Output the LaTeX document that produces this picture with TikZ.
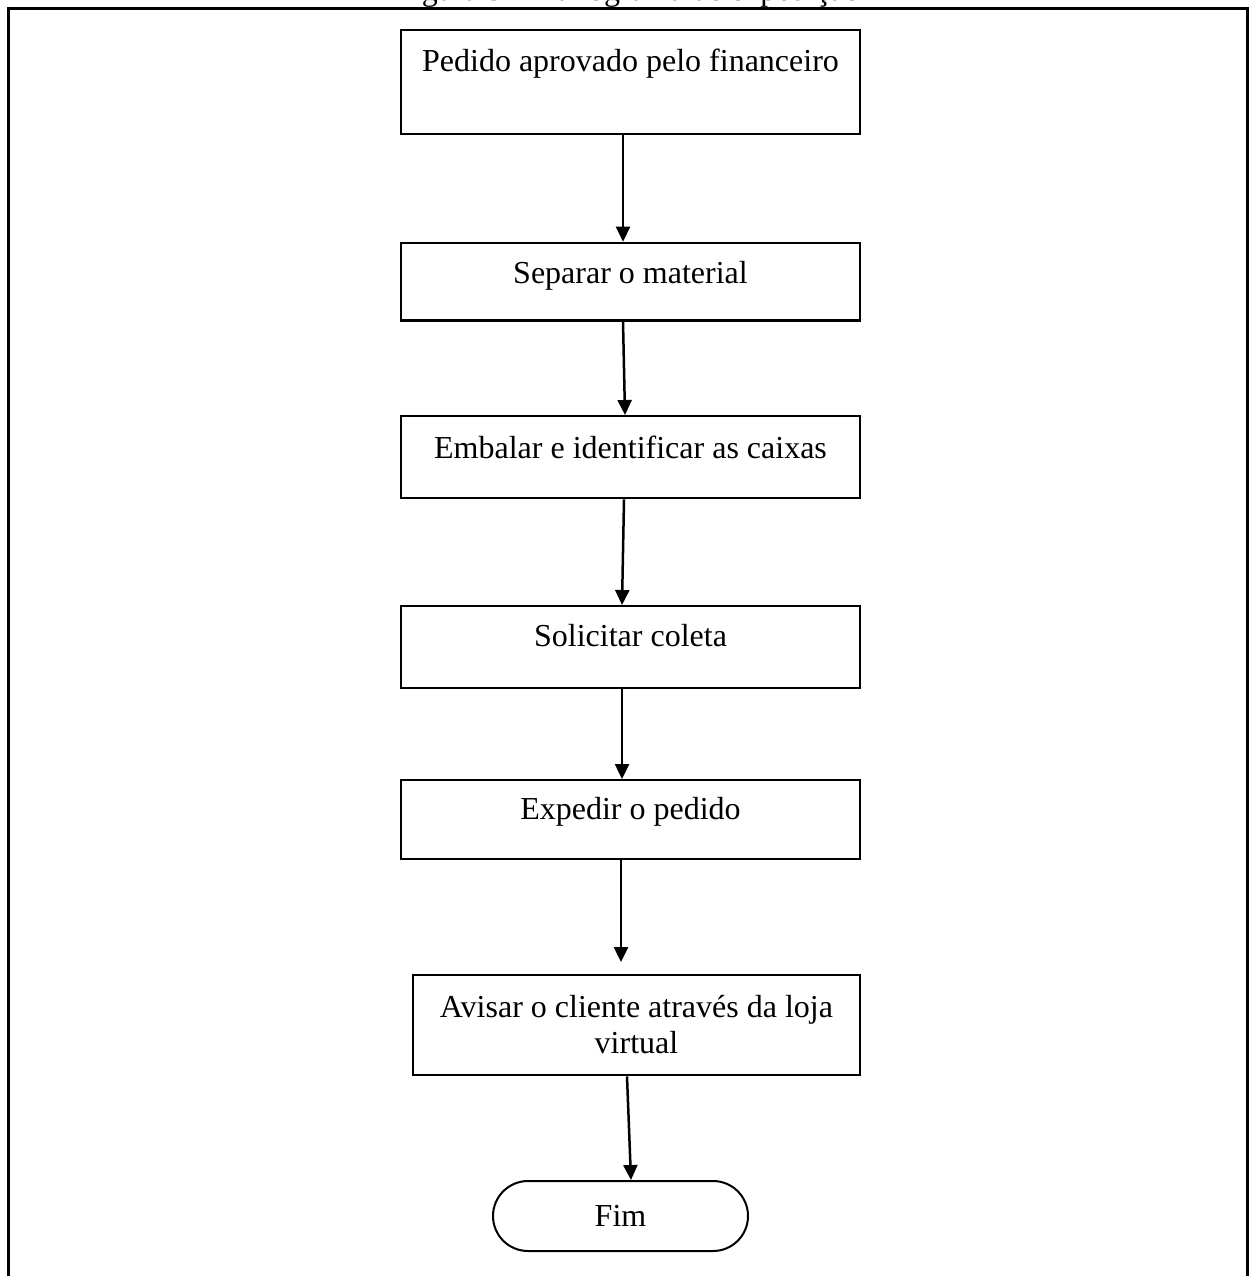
\documentclass[tikz,border=0pt]{standalone}
\usepackage{fontspec}
\setmainfont{Liberation Serif}
\usetikzlibrary{arrows.meta}
\begin{document}
\begin{tikzpicture}[x=1pt,y=-1pt,
  box/.style={draw, line width=2.3pt, inner sep=0pt, minimum width=459pt,
    font=\fontsize{32}{36.8}\selectfont},
  arr/.style={line width=2.5pt, -{Triangle[length=15pt,width=14pt]}},
  endbox/.style={draw, line width=2pt, rounded corners=35pt, inner sep=0pt,
    minimum width=255pt, minimum height=70pt, font=\fontsize{32}{36.8}\selectfont}]
\useasboundingbox (0,0) rectangle (1250,1276);
% title (cut off by page edge, as in the reference)
\node[anchor=base west, inner sep=0pt, font=\fontsize{32}{36.8}\selectfont] (title) at (395,0.5) {Figura 3 - Fluxograma de expedição};
% frame
\draw[line width=3pt] (8,1290) -- (8,8.5) -- (1247,8.5) -- (1247,1290);
% boxes
\node[box, anchor=north, text height=41pt, text depth=63pt] (b1) at (630.5,29) {Pedido aprovado pelo financeiro};
\node[box, anchor=north, text height=40.5pt, text depth=37pt] (b2) at (630.5,241.7) {Separar o material};
\node[box, anchor=north, text height=42pt, text depth=40pt] (b3) at (630.5,415) {Embalar e identificar as caixas};
\node[box, anchor=north, text height=40pt, text depth=42pt] (b4) at (630.5,605) {Solicitar coleta};
\node[box, anchor=north, text height=39pt, text depth=40pt] (b5) at (630.5,779) {Expedir o pedido};
\node[box, anchor=north, minimum width=447pt, text width=447pt, align=flush center, text height=42pt, text depth=58pt] (b6) at (636.5,974) {Avisar o cliente através da loja\\virtual};
\node[endbox] (fim) at (620.5,1216) {Fim};
% connectors
\draw[arr] ([xshift=-7.5pt]b1.south) -- ([xshift=-7.5pt]b2.north);
\draw[arr] ([xshift=-7.5pt]b2.south) -- ([xshift=-5.5pt]b3.north);
\draw[arr] ([xshift=-6.5pt]b3.south) -- ([xshift=-8.5pt]b4.north);
\draw[arr] ([xshift=-8.5pt]b4.south) -- ([xshift=-8.5pt]b5.north);
\draw[arr] ([xshift=-9.5pt]b5.south) -- ([xshift=-15.5pt,yshift=12pt]b6.north);
\draw[arr] ([xshift=-9.5pt]b6.south) -- ([xshift=10.5pt]fim.north);
\end{tikzpicture}
\end{document}
